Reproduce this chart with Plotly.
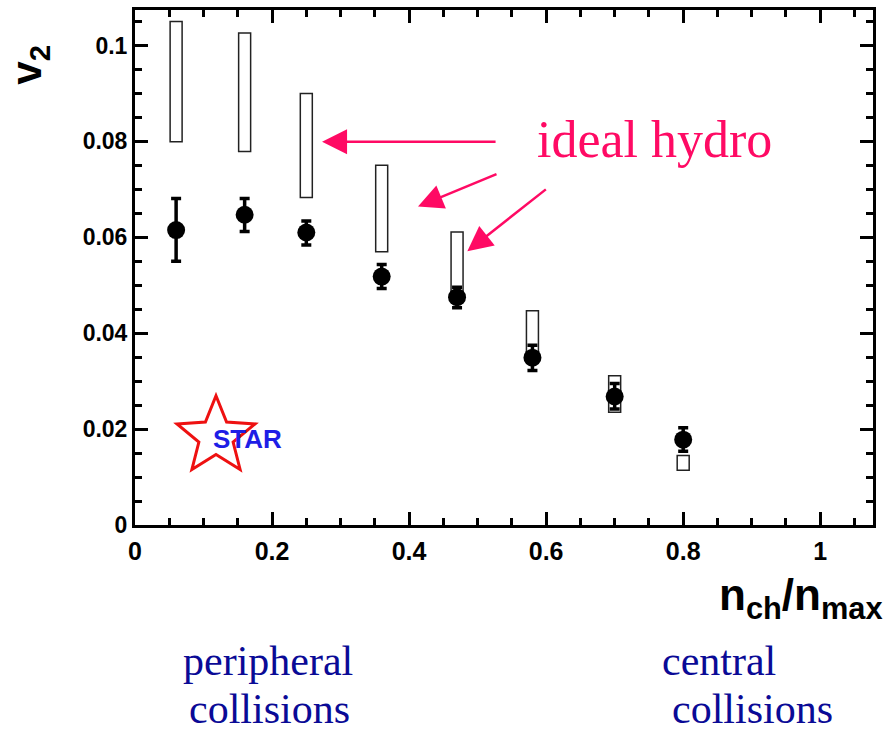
import math
import plotly.graph_objects as go

# ---- data ----
nch = [0.06, 0.16, 0.25, 0.36, 0.47, 0.58, 0.70, 0.80]
v2 = [0.0615, 0.0647, 0.0610, 0.0518, 0.0475, 0.0349, 0.0268, 0.0178]
err_up = [0.0066, 0.0034, 0.0024, 0.0025, 0.0021, 0.0026, 0.0027, 0.0025]
err_dn = [0.0065, 0.0035, 0.0026, 0.0025, 0.0022, 0.0027, 0.0026, 0.0024]
hydro_lo = [0.0799, 0.0779, 0.0683, 0.0570, 0.0480, 0.0355, 0.0235, 0.0114]
hydro_hi = [0.1050, 0.1026, 0.0900, 0.0750, 0.0611, 0.0447, 0.0311, 0.0145]
xticks = [0, 0.2, 0.4, 0.6, 0.8, 1.0]
yticks = [0, 0.02, 0.04, 0.06, 0.08, 0.1]

PINK = "#ff0a64"
NAVY = "#0a0a96"

W, H = 888, 731
L, R, T, B = 135, 15, 7, 206
PW, PH = W - L - R, H - T - B


def px2paper(px, py):
    return (px - L) / PW, (H - B - py) / PH


fig = go.Figure()

fig.add_trace(go.Bar(
    x=nch, y=[h - l for h, l in zip(hydro_hi, hydro_lo)], base=hydro_lo,
    width=0.0175, marker=dict(color="white", line=dict(color="#222222", width=1.5)),
    showlegend=False, hoverinfo="skip"))

fig.add_trace(go.Scatter(
    x=nch, y=v2, mode="markers",
    marker=dict(color="black", size=18),
    error_y=dict(type="data", symmetric=False, array=err_up, arrayminus=err_dn,
                 color="black", thickness=3.5, width=5),
    showlegend=False))

axis_common = dict(
    showline=True, linecolor="black", linewidth=3, mirror="ticks",
    ticks="inside", ticklen=13, tickwidth=3, tickcolor="black",
    showgrid=False, zeroline=False,
)

fig.update_xaxes(range=[0, 1.077], tickvals=xticks,
                 minor=dict(dtick=0.05, ticklen=7, tickwidth=3, tickcolor="black", ticks="inside"),
                 ticklabelstandoff=2,
                 tickfont=dict(family="Liberation Sans Narrow, Arial Narrow, Liberation Sans", size=25,
                               color="black", weight="bold"),
                 **axis_common)
fig.update_yaxes(range=[0, 0.1074], tickvals=yticks,
                 minor=dict(dtick=0.005, ticklen=7, tickwidth=3, tickcolor="black", ticks="inside"),
                 tickfont=dict(family="Liberation Sans, Arial", size=23, color="black", weight="bold"),
                 **axis_common)

annotations = []
# axis titles
xv, yv = px2paper(30, 62)
annotations.append(dict(xref="paper", yref="paper", x=xv, y=yv, text="v<sub>2</sub>",
                        textangle=-90, showarrow=False, xanchor="center", yanchor="middle",
                        font=dict(family="Liberation Sans, Arial", size=42, color="black", weight="bold")))
xn, yn = px2paper(885, 598)
annotations.append(dict(xref="paper", yref="paper", x=xn, y=yn, text="n<sub>ch</sub>/n<sub>max</sub>",
                        showarrow=False, xanchor="right", yanchor="middle",
                        font=dict(family="Liberation Sans Narrow, Arial Narrow, Liberation Sans", size=44,
                                  color="black", weight="bold")))
# ideal hydro label
xi, yi = px2paper(654, 137)
annotations.append(dict(xref="paper", yref="paper", x=xi, y=yi, text="ideal hydro", showarrow=False,
                        xanchor="center", yanchor="middle",
                        font=dict(family="Liberation Serif, Times New Roman", size=52, color=PINK)))
# arrows (head in data coords, tail offset in pixels)
for hx, hy, ax, ay in [(0.273, 0.0799, 175, 0), (0.413, 0.0664, 80, -33), (0.485, 0.0571, 80, -63)]:
    annotations.append(dict(x=hx, y=hy, xref="x", yref="y", ax=ax, ay=ay, text="",
                            showarrow=True, arrowhead=2, arrowsize=2.0, arrowwidth=2.5,
                            arrowcolor=PINK, standoff=0))
# bottom labels
for txt, cx, cy in [("peripheral", 268, 662), ("collisions", 269, 710),
                    ("central", 719, 662), ("collisions", 752, 710)]:
    px_, py_ = px2paper(cx, cy)
    annotations.append(dict(xref="paper", yref="paper", x=px_, y=py_, text=txt, showarrow=False,
                            xanchor="center", yanchor="middle",
                            font=dict(family="Liberation Serif, Times New Roman", size=42, color=NAVY)))
# STAR logo text
sx, sy = px2paper(247, 438)
annotations.append(dict(xref="paper", yref="paper", x=sx, y=sy, text="STAR", showarrow=False,
                        xanchor="center", yanchor="middle",
                        font=dict(family="Liberation Sans, Arial", size=26, color="#1e1ee6", weight="bold")))

# STAR logo star outline
cxp, cyp, Ro, Ri = 216, 436, 41, 18
pts = []
for k in range(10):
    ang = -math.pi / 2 + k * math.pi / 5
    rr = Ro if k % 2 == 0 else Ri
    pts.append(px2paper(cxp + rr * math.cos(ang), cyp + rr * math.sin(ang)))
path = "M " + " L ".join(f"{a:.5f},{b:.5f}" for a, b in pts) + " Z"
shapes = [dict(type="path", xref="paper", yref="paper", path=path,
               line=dict(color="#ee1111", width=3), fillcolor="rgba(0,0,0,0)", layer="below")]

fig.update_layout(
    width=W, height=H, margin=dict(l=L, r=R, t=T, b=B),
    plot_bgcolor="white", paper_bgcolor="white",
    annotations=annotations, shapes=shapes, showlegend=False,
)

fig.write_html("out.html")
